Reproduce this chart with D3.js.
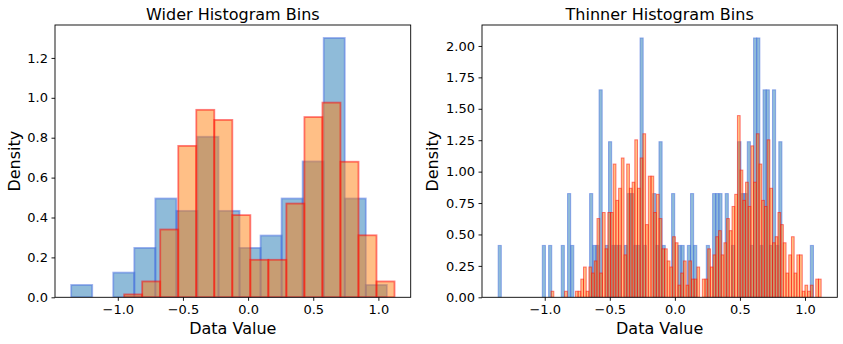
<!DOCTYPE html>
<html>
<head>
<meta charset="utf-8">
<script src="https://cdn.jsdelivr.net/npm/d3@7"></script>
<style>
  html, body { margin: 0; padding: 0; background: #fff; }
  svg { display: block; font-family: "DejaVu Sans", sans-serif; }
</style>
</head>
<body>
<svg id="chart" width="843" height="344"></svg>
<script>
// ---- data -------------------------------------------------------------
// Sample extent of each series (min, max) and sample sizes
const blueRange = [-1.358, 1.065];
const orangeRange = [-0.951, 1.124];
const blueTotal = 100;
const orangeTotal = 1000;

// Counts per bin, 15 wide bins spanning each series' own range
const blueWideCounts   = [1, 0, 2, 4, 8, 7, 13, 7, 4, 5, 8, 11, 21, 8, 1];
const orangeWideCounts = [2, 11, 47, 105, 130, 123, 57, 26, 26, 65, 125, 135, 94, 43, 11];

// Counts per bin, 100 thin bins spanning each series' own range
const blueThinCounts = [
  1, 0, 0, 0, 0, 0, 0, 0, 0, 0,
  0, 0, 0, 0, 1, 0, 1, 0, 0, 0,
  1, 0, 2, 1, 0, 0, 0, 0, 0, 2,
  1, 1, 4, 0, 1, 3, 1, 1, 1, 0,
  1, 2, 2, 1, 1, 5, 1, 0, 0, 2,
  1, 3, 1, 0, 0, 2, 0, 1, 1, 0,
  1, 2, 1, 0, 0, 0, 1, 0, 2, 2,
  2, 0, 2, 0, 1, 0, 3, 2, 2, 3,
  1, 5, 5, 1, 4, 4, 1, 4, 1, 3,
  0, 0, 0, 0, 0, 0, 0, 0, 0, 1
];
const orangeThinCounts = [
  1, 0, 0, 0, 0, 1, 0, 0, 0, 1,
  1, 3, 5, 1, 5, 4, 6, 13, 4, 14,
  8, 14, 14, 22, 16, 18, 23, 7, 22, 18,
  19, 26, 18, 23, 27, 12, 20, 20, 14, 17,
  13, 8, 8, 6, 5, 10, 9, 2, 4, 6,
  2, 6, 3, 3, 5, 0, 3, 3, 8, 5,
  7, 10, 11, 7, 9, 13, 11, 15, 17, 30,
  21, 16, 19, 15, 25, 19, 27, 22, 16, 15,
  26, 18, 9, 10, 14, 12, 9, 4, 7, 10,
  4, 7, 7, 1, 2, 1, 2, 0, 3, 3
];

// Tick values and labels
const xTicks = [-1.0, -0.5, 0.0, 0.5, 1.0];
const yTicksWide = [0.0, 0.2, 0.4, 0.6, 0.8, 1.0, 1.2];
const yTicksThin = [0.00, 0.25, 0.50, 0.75, 1.00, 1.25, 1.50, 1.75, 2.00];

const titles = ["Wider Histogram Bins", "Thinner Histogram Bins"];
const xLabel = "Data Value";
const yLabel = "Density";

// ---- helpers -------------------------------------------------------------
// Turn bin counts into density-normalised bins (area sums to 1)
function densityBins(counts, range, total) {
  const w = (range[1] - range[0]) / counts.length;
  return counts.map((c, i) => ({
    x0: range[0] + i * w,
    x1: range[0] + (i + 1) * w,
    density: c / (total * w)
  }));
}

const fmtMinus = s => s.replace("-", "\u2212");

const svg = d3.select("#chart");
const plotTop = 25, plotBottom = 297.3;

const panels = [
  { title: titles[0], left: 55, right: 410.7, blue: blueWideCounts, orange: orangeWideCounts,
    yTicks: yTicksWide, yFmt: d3.format(".1f"), edge: 1.8, yLabelX: 19.9 },
  { title: titles[1], left: 482, right: 837.3, blue: blueThinCounts, orange: orangeThinCounts,
    yTicks: yTicksThin, yFmt: d3.format(".2f"), edge: 1.0, yLabelX: 437.7 }
];

panels.forEach(p => {
  const blueBins = densityBins(p.blue, blueRange, blueTotal);
  const orangeBins = densityBins(p.orange, orangeRange, orangeTotal);

  // x extent padded by 5% on each side
  const xmin = Math.min(blueRange[0], orangeRange[0]);
  const xmax = Math.max(blueRange[1], orangeRange[1]);
  const pad = (xmax - xmin) * 0.05;
  const x = d3.scaleLinear().domain([xmin - pad, xmax + pad]).range([p.left, p.right]);

  const ymax = d3.max(blueBins.concat(orangeBins), d => d.density) * 1.05;
  const y = d3.scaleLinear().domain([0, ymax]).range([plotBottom, plotTop]);

  const g = svg.append("g");

  const clipId = "clip" + p.left;
  svg.append("clipPath").attr("id", clipId)
    .append("rect").attr("x", p.left).attr("y", plotTop)
    .attr("width", p.right - p.left).attr("height", plotBottom - plotTop);

  const marks = g.append("g").attr("clip-path", `url(#${clipId})`);

  const drawBars = (bins, fill, stroke) => {
    marks.append("g").selectAll("rect")
      .data(bins.filter(d => d.density > 0))
      .join("rect")
      .attr("x", d => x(d.x0))
      .attr("width", d => x(d.x1) - x(d.x0))
      .attr("y", d => y(d.density))
      .attr("height", d => y(0) - y(d.density))
      .attr("fill", fill)
      .attr("fill-opacity", 0.5)
      .attr("stroke", stroke)
      .attr("stroke-opacity", 0.5)
      .attr("stroke-width", p.edge);
  };
  drawBars(blueBins, "#1f77b4", "royalblue");
  drawBars(orangeBins, "#ff7f0e", "red");

  // axes
  const xAxis = d3.axisBottom(x).tickValues(xTicks)
    .tickFormat(d => fmtMinus(d3.format(".1f")(d))).tickSizeOuter(0).tickSize(3.5).tickPadding(3.5);
  const gx = g.append("g").attr("transform", `translate(0,${plotBottom})`).call(xAxis);

  const yAxis = d3.axisLeft(y).tickValues(p.yTicks)
    .tickFormat(p.yFmt).tickSizeOuter(0).tickSize(3.5).tickPadding(3.5);
  const gy = g.append("g").attr("transform", `translate(${p.left},0)`).call(yAxis);

  [gx, gy].forEach(a => {
    a.select(".domain").remove();
    a.selectAll(".tick line").attr("stroke", "#000").attr("stroke-width", 0.9);
    a.selectAll(".tick text").attr("fill", "#000").style("font-size", "13px")
      .style("font-family", "DejaVu Sans, sans-serif");
  });

  // frame
  g.append("rect")
    .attr("x", p.left).attr("y", plotTop)
    .attr("width", p.right - p.left).attr("height", plotBottom - plotTop)
    .attr("fill", "none").attr("stroke", "#000").attr("stroke-width", 0.9);

  // title and axis labels
  g.append("text")
    .attr("x", (p.left + p.right) / 2).attr("y", 19.5)
    .attr("text-anchor", "middle").style("font-size", "16px").text(p.title);

  g.append("text")
    .attr("x", (p.left + p.right) / 2).attr("y", 333.5)
    .attr("text-anchor", "middle").style("font-size", "16px").text(xLabel);

  g.append("text")
    .attr("transform", `translate(${p.yLabelX},${(plotTop + plotBottom) / 2}) rotate(-90)`)
    .attr("text-anchor", "middle").style("font-size", "16px").text(yLabel);
});
</script>
</body>
</html>
